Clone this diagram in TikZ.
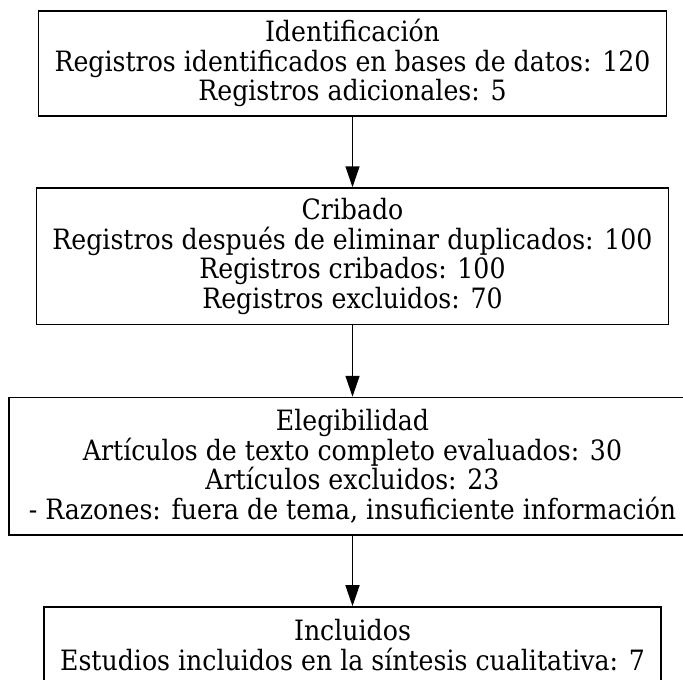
\documentclass[tikz,border=0pt]{standalone}
\usepackage{fontspec}
\setmainfont{DejaVu Serif}[FakeStretch=0.9]
\usetikzlibrary{arrows.meta}
\begin{document}
\begin{tikzpicture}[x=1pt,y=-1pt,
        stage/.style={draw=black, line width=1.6pt, align=center, inner xsep=16pt,
          font=\fontsize{28}{29.5}\selectfont},
        flow/.style={line width=1.5pt, -{Triangle[length=21pt,width=14pt]}}]
        \useasboundingbox (0,0) rectangle (683,680);
        \node [stage, minimum height=105pt] (ident) at (352.5,63.2) {Identificación\\Registros identificados en bases de datos: 120\\Registros adicionales: 5};
        \node [stage, minimum height=136.5pt] (crib) at (352.5,256.3) {Cribado\\Registros después de eliminar duplicados: 100\\Registros cribados: 100\\Registros excluidos: 70};
        \node [stage, minimum height=137.5pt, inner xsep=20pt] (eleg) at (352.5,466.3) {Elegibilidad\\Artículos de texto completo evaluados: 30\\Artículos excluidos: 23\\- Razones: fuera de tema, insuficiente información};
        \node [stage, minimum height=76pt] (incl) at (352.5,645) {Incluidos\\Estudios incluidos en la síntesis cualitativa: 7};
        \draw [flow] (ident) -- (crib);
        \draw [flow] (crib) -- (eleg);
        \draw [flow] (eleg) -- (incl);
\end{tikzpicture}
\end{document}
